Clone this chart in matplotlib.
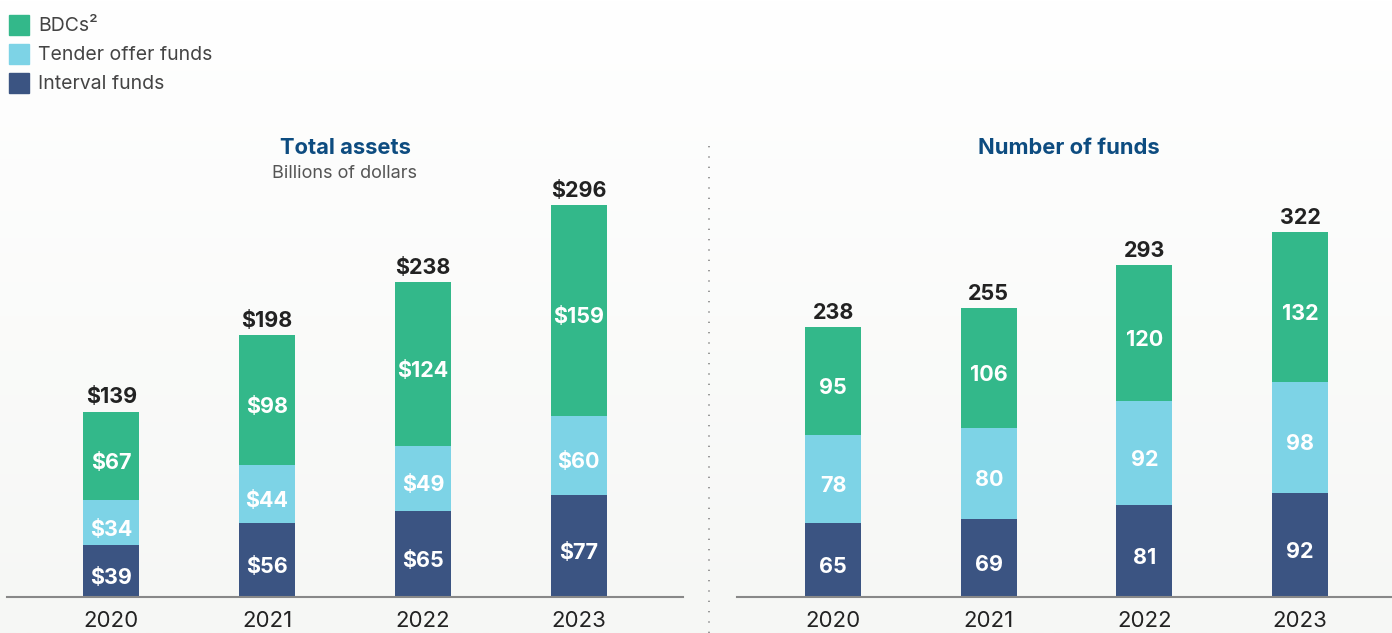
import numpy as np
import matplotlib
matplotlib.use("Agg")
import matplotlib.pyplot as plt
from matplotlib.lines import Line2D
from matplotlib.patches import Rectangle

years = ["2020", "2021", "2022", "2023"]
series = ["Interval funds", "Tender offer funds", "BDCs²"]

assets_interval = [39, 56, 65, 77]
assets_tender = [34, 44, 49, 60]
assets_bdc = [67, 98, 124, 159]
assets_total = [139, 198, 238, 296]

funds_interval = [65, 69, 81, 92]
funds_tender = [78, 80, 92, 98]
funds_bdc = [95, 106, 120, 132]
funds_total = [238, 255, 293, 322]

c_navy = "#3b5482"
c_light = "#7dd3e6"
c_green = "#33b88a"
c_title = "#0d4c80"

plt.rcParams['font.family'] = ['Inter', 'DejaVu Sans']

W, H = 1392, 633
fig = plt.figure(figsize=(W / 100, H / 100), dpi=100)

# background gradient
bg = fig.add_axes([0, 0, 1, 1], zorder=-10)
grad = np.linspace(0, 1, 256).reshape(-1, 1)
top = np.array([1.0, 1.0, 1.0])
bot = np.array([246, 247, 245]) / 255
img = top[None, None, :] * (1 - grad[:, :, None]) + bot[None, None, :] * grad[:, :, None]
bg.imshow(img, aspect="auto", extent=[0, 1, 0, 1])
bg.axis("off")


def px(x0, y0, x1, y1):
    return [x0 / W, 1 - y1 / H, (x1 - x0) / W, (y1 - y0) / H]


def panel(rect, xlim, ylim, inter, tender, bdc, total, prefix, title, subtitle, title_x):
    ax = fig.add_axes(rect)
    ax.patch.set_alpha(0)
    x = np.arange(len(years))
    w = 0.36
    ax.bar(x, inter, w, color=c_navy, zorder=2)
    ax.bar(x, tender, w, bottom=inter, color=c_light, zorder=2)
    b2 = np.array(inter) + np.array(tender)
    ax.bar(x, bdc, w, bottom=b2, color=c_green, zorder=2)
    for i in range(len(years)):
        segs = [(0, inter[i]), (inter[i], tender[i]), (b2[i], bdc[i])]
        for b, v in segs:
            ax.annotate(f"{prefix}{v}", (x[i], b + v / 2), xytext=(0, -5),
                        textcoords="offset points", ha="center", va="center",
                        color="white", fontsize=15.5, fontweight="bold", zorder=3)
        ax.annotate(f"{prefix}{total[i]}", (x[i], b2[i] + bdc[i]), xytext=(0, 3),
                    textcoords="offset points", ha="center", va="bottom",
                    fontsize=15.5, fontweight="bold", color="#222222")
    ax.set_xlim(*xlim)
    ax.set_ylim(*ylim)
    for s in ["top", "right", "left"]:
        ax.spines[s].set_visible(False)
    ax.spines["bottom"].set_color("#888888")
    ax.spines["bottom"].set_linewidth(1.5)
    ax.set_yticks([])
    ax.set_xticks(x)
    ax.set_xticklabels(years, fontsize=16, color="#222222")
    ax.tick_params(axis="x", length=0, pad=10)
    fig.text(title_x / W, 1 - 148 / H, title, ha="center", va="center",
             fontsize=15.8, fontweight="bold", color=c_title)
    if subtitle:
        fig.text(title_x / W, 1 - 174 / H, subtitle, ha="center", va="center",
                 fontsize=13, color="#555555")
    return ax


panel(px(7, 100, 683, 597), (-0.67, 3.67), (0, 497 / 1.324),
      assets_interval, assets_tender, assets_bdc, assets_total, "$",
      "Total assets", "Billions of dollars", 345)
panel(px(737, 100, 1392, 597), (-0.617, 3.59), (0, 497 / 1.134),
      funds_interval, funds_tender, funds_bdc, funds_total, "",
      "Number of funds", None, 1069)

# divider
fig.add_artist(Line2D([709 / W, 709 / W], [0, 1 - 140 / H], transform=fig.transFigure,
                      color="#888888", linewidth=1.2, linestyle=(0, (0.8, 5.4))))

# legend
leg = [("BDCs²", c_green), ("Tender offer funds", c_light), ("Interval funds", c_navy)]
for i, (lab, col) in enumerate(leg):
    yc = 25 + i * 29
    fig.add_artist(Rectangle((9 / W, 1 - (yc + 10) / H), 20 / W, 20 / H,
                             transform=fig.transFigure, color=col))
    fig.text(38 / W, 1 - (yc + 1) / H, lab, ha="left", va="center", fontsize=14, color="#444444")

fig.savefig("out.png", dpi=100)
